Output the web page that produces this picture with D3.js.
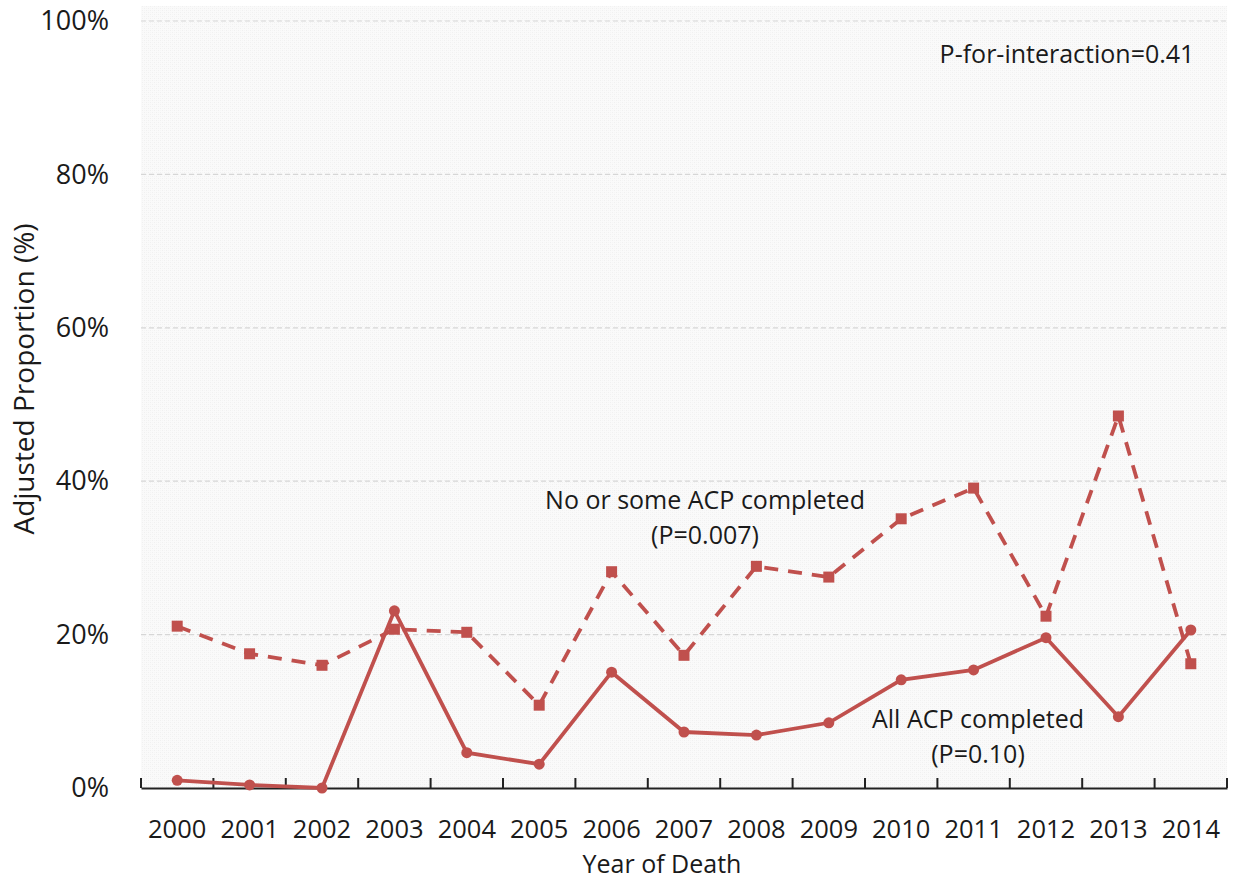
<!DOCTYPE html>
<html>
<head>
<meta charset="utf-8">
<script src="https://cdn.jsdelivr.net/npm/d3@7"></script>
<style>
  html, body { margin: 0; padding: 0; background: #ffffff; }
  svg { display: block; font-family: "Open Sans", "Noto Sans", sans-serif; }
</style>
</head>
<body>
<svg id="chart" width="1236" height="880"></svg>
<script>
const years = ["2000","2001","2002","2003","2004","2005","2006","2007","2008","2009","2010","2011","2012","2013","2014"];
const noOrSomeACP = [21.1, 17.5, 16.0, 20.7, 20.3, 10.8, 28.2, 17.3, 28.9, 27.5, 35.1, 39.1, 22.4, 48.5, 16.2];
const allACP = [1.0, 0.4, 0.0, 23.1, 4.6, 3.1, 15.1, 7.3, 6.9, 8.5, 14.1, 15.4, 19.6, 9.3, 20.6];
const yTicks = [0, 20, 40, 60, 80, 100];
const annoNoSome = ["No or some ACP completed", "(P=0.007)"];
const annoAll = ["All ACP completed", "(P=0.10)"];
const annoInteraction = "P-for-interaction=0.41";

const color = "#c0504d";
const textColor = "#1a1a1a";

const svg = d3.select("#chart");
const left = 141, right = 1227, bottom = 788, top100 = 21;

const x = d3.scaleBand().domain(years).range([left, right]).padding(0);
const y = d3.scaleLinear().domain([0, 100]).range([bottom, top100]);
const yTopVal = y.invert(6);

// background pattern
const defs = svg.append("defs");
const pat = defs.append("pattern").attr("id", "bgpat").attr("width", 4).attr("height", 4)
  .attr("patternUnits", "userSpaceOnUse");
pat.append("rect").attr("width", 4).attr("height", 4).attr("fill", "#fafafa");
pat.append("rect").attr("x", 0).attr("y", 0).attr("width", 1).attr("height", 1).attr("fill", "#f0f0f0");
pat.append("rect").attr("x", 2).attr("y", 2).attr("width", 1).attr("height", 1).attr("fill", "#f0f0f0");
pat.append("rect").attr("x", 2).attr("y", 0).attr("width", 1).attr("height", 1).attr("fill", "#f5f5f5");
pat.append("rect").attr("x", 0).attr("y", 2).attr("width", 1).attr("height", 1).attr("fill", "#f5f5f5");

svg.append("rect")
  .attr("x", left).attr("y", y(yTopVal))
  .attr("width", right - left).attr("height", y(0) - y(yTopVal))
  .attr("fill", "url(#bgpat)");

// gridlines
svg.append("g").selectAll("line").data(yTicks.filter(d => d > 0)).join("line")
  .attr("x1", left).attr("x2", right)
  .attr("y1", d => y(d)).attr("y2", d => y(d))
  .attr("stroke", "#d6d6d6").attr("stroke-width", 1.2)
  .attr("stroke-dasharray", "5,3");

// y axis labels (no line)
const yAxis = d3.axisLeft(y).tickValues(yTicks).tickFormat(d => d + "%").tickSize(0).tickPadding(32);
const gy = svg.append("g").attr("transform", `translate(${left},0)`).call(yAxis);
gy.select(".domain").remove();
gy.selectAll("text").attr("font-size", 27).attr("fill", textColor)
  .attr("font-family", "'Open Sans', sans-serif");

// x axis
const xAxis = d3.axisBottom(x).tickSize(0).tickPadding(32);
const gx = svg.append("g").attr("transform", `translate(0,${bottom})`).call(xAxis);
gx.select(".domain").attr("stroke", "#222").attr("stroke-width", 2);
gx.selectAll("text").attr("font-size", 25.5).attr("fill", textColor)
  .attr("font-family", "'Open Sans', sans-serif");
// ticks at band boundaries, pointing up
const boundaries = years.map(d => x(d)).concat([x(years[years.length - 1]) + x.bandwidth()]);
svg.append("g").selectAll("line").data(boundaries).join("line")
  .attr("x1", d => d).attr("x2", d => d)
  .attr("y1", bottom - 10).attr("y2", bottom)
  .attr("stroke", "#222").attr("stroke-width", 2);

const cx = d => x(d) + x.bandwidth() / 2;

const lineGen = d3.line().x(d => cx(d.year)).y(d => y(d.v));
const dataNS = years.map((yr, i) => ({ year: yr, v: noOrSomeACP[i] }));
const dataAll = years.map((yr, i) => ({ year: yr, v: allACP[i] }));

// dashed series
svg.append("path").datum(dataNS).attr("d", lineGen)
  .attr("fill", "none").attr("stroke", color).attr("stroke-width", 3.8)
  .attr("stroke-dasharray", "14,10");
svg.append("g").selectAll("rect").data(dataNS).join("rect")
  .attr("x", d => cx(d.year) - 5.5).attr("y", d => y(d.v) - 5.5)
  .attr("width", 11).attr("height", 11).attr("fill", color);

// solid series
svg.append("path").datum(dataAll).attr("d", lineGen)
  .attr("fill", "none").attr("stroke", color).attr("stroke-width", 3.8);
svg.append("g").selectAll("circle").data(dataAll).join("circle")
  .attr("cx", d => cx(d.year)).attr("cy", d => y(d.v)).attr("r", 5.5).attr("fill", color);

// annotations
function anno(lines, xc, y0, dy) {
  svg.append("g").selectAll("text").data(lines).join("text")
    .attr("x", xc).attr("y", (d, i) => y0 + i * dy)
    .attr("text-anchor", "middle").attr("font-size", 25).attr("fill", textColor)
    .text(d => d);
}
anno(annoNoSome, 705, 509, 35);
anno(annoAll, 978, 728, 35);
anno([annoInteraction], 1067, 63, 0);

// axis titles
svg.append("text").attr("x", 662).attr("y", 872.5).attr("text-anchor", "middle")
  .attr("font-size", 25).attr("fill", textColor).text("Year of Death");
svg.append("text").attr("transform", "translate(34,379) rotate(-90)")
  .attr("text-anchor", "middle").attr("font-size", 28).attr("fill", textColor)
  .text("Adjusted Proportion (%)");
</script>
</body>
</html>
